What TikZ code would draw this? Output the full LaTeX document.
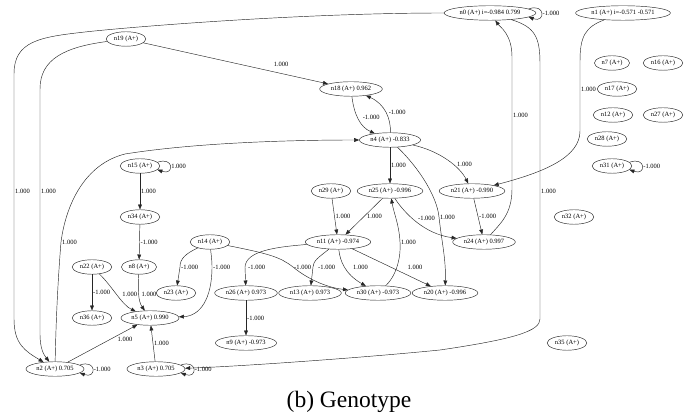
\documentclass[tikz,border=0pt]{standalone}
\usepackage{fontspec}
\setmainfont{Liberation Serif}
\usetikzlibrary{arrows.meta,shapes.geometric}
\tikzset{
  >={Triangle[length=5pt,width=3.8pt]},
  gene/.style={ellipse,draw=black!85,line width=0.45pt,font=\fontsize{6.5}{7.5}\selectfont,inner xsep=2pt,inner ysep=2pt,minimum height=14.5pt},
  link/.style={->,draw=black!85,line width=0.45pt},
  self/.style={link,min distance=18pt},
  wt/.style={font=\fontsize{6.5}{7.5}\selectfont,inner sep=1pt},
  caption/.style={font=\fontsize{23.5}{28}\selectfont,anchor=base}
}
\begin{document}
\begin{tikzpicture}[x=1pt,y=1pt]
  \useasboundingbox (0,0) rectangle (692,419);
  \node[gene] (n0) at (490,406) {n0 (A+) i=-0.984 0.799};
  \node[gene] (n1) at (623,406) {n1 (A+) i=-0.571 -0.571};
  \node[gene] (n19) at (126,380) {n19 (A+)};
  \node[gene] (n7) at (612,356) {n7 (A+)};
  \node[gene] (n16) at (663,356) {n16 (A+)};
  \node[gene] (n18) at (351,330) {n18 (A+) 0.962};
  \node[gene] (n17) at (617,330) {n17 (A+)};
  \node[gene] (n12) at (613,304) {n12 (A+)};
  \node[gene] (n27) at (663,304) {n27 (A+)};
  \node[gene] (n4) at (390,279) {n4 (A+) -0.833};
  \node[gene] (n28) at (607,280) {n28 (A+)};
  \node[gene] (n15) at (140,253) {n15 (A+)};
  \node[gene] (n31) at (612,253) {n31 (A+)};
  \node[gene] (n29) at (331,228) {n29 (A+)};
  \node[gene] (n25) at (390,228) {n25 (A+) -0.996};
  \node[gene] (n21) at (472,228) {n21 (A+) -0.990};
  \node[gene] (n34) at (140,202) {n34 (A+)};
  \node[gene] (n32) at (574,202) {n32 (A+)};
  \node[gene] (n14) at (210,177) {n14 (A+)};
  \node[gene] (n11) at (338,177) {n11 (A+) -0.974};
  \node[gene] (n24) at (484,177) {n24 (A+) 0.997};
  \node[gene] (n22) at (92,152) {n22 (A+)};
  \node[gene] (n8) at (139,152) {n8 (A+)};
  \node[gene] (n23) at (176,126) {n23 (A+)};
  \node[gene] (n26) at (246,126) {n26 (A+) 0.973};
  \node[gene] (n13) at (310,126) {n13 (A+) 0.973};
  \node[gene] (n30) at (378,126) {n30 (A+) -0.973};
  \node[gene] (n20) at (445,126) {n20 (A+) -0.996};
  \node[gene] (n36) at (92,101) {n36 (A+)};
  \node[gene] (n5) at (150,101) {n5 (A+) 0.990};
  \node[gene] (n9) at (246,76) {n9 (A+) -0.973};
  \node[gene] (n35) at (567,76) {n35 (A+)};
  \node[gene] (n2) at (55,50) {n2 (A+) 0.705};
  \node[gene] (n3) at (156,50) {n3 (A+) 0.705};

  \draw[link] (n0.west) .. controls (300,406) and (130,392) .. (85,387) .. controls (40,382) and (14,378) .. (14,345) -- (14,228) node[wt,right]{1.000} -- (14,100) .. controls (14,75) and (25,68) .. (n2);
  \draw[link] (n19) .. controls (65,372) and (40,360) .. (40,330) -- (40,228) node[wt,right]{1.000} -- (40,85) .. controls (40,70) and (44,64) .. (n2);
  \draw[link] (n2) .. controls (56,100) and (58,140) .. (61,177) node[wt,right]{1.000} .. controls (66,215) and (85,255) .. (125,265) .. controls (200,277) and (300,279) .. (n4);
  \draw[link] (n2) -- node[wt,pos=0.7,anchor=north west]{1.000} (n5);
  \draw[link] (n3) -- node[wt,midway,right]{1.000} (n5);
  \draw[self] (n2.9) to[out=20,in=-20] node[wt,right]{-1.000} (n2.-9);
  \draw[self] (n3.9) to[out=20,in=-20] node[wt,right]{-1.000} (n3.-9);
  \draw[link] (n0) .. controls (535,392) and (540,382) .. (540,355) -- (540,228) node[wt,right]{1.000} -- (540,100) .. controls (540,88) and (515,80) .. (440,69) .. controls (360,61) and (230,52) .. (n3);
  \draw[link] (n24) .. controls (500,195) and (512,205) .. (512,230) -- (512,304) node[wt,right]{1.000} -- (512,362) .. controls (512,385) and (500,392) .. (n0);
  \draw[self] (n0.6) to[out=20,in=-20] node[wt,right]{-1.000} (n0.-6);
  \draw[link] (n1) .. controls (585,392) and (580,382) .. (580,358) -- (580,330) node[wt,right]{1.000} -- (580,288) .. controls (580,262) and (545,247) .. (n21);
  \draw[link] (n19) -- node[wt,pos=0.7,anchor=south west,yshift=4pt]{1.000} (n18);
  \draw[link] (n18) .. controls (354,305) and (360,292) .. (n4) node[wt,pos=0.45,right=4pt]{-1.000};
  \draw[link] (n4) .. controls (391,300) and (385,315) .. (n18) node[wt,pos=0.5,right=2pt]{-1.000};
  \draw[link] (n4) -- node[wt,midway,right]{1.000} (n25);
  \draw[link] (n4) .. controls (440,268) and (460,252) .. (n21) node[wt,pos=0.6,right=3pt]{1.000};
  \draw[link] (n4) .. controls (420,250) and (437,222) .. (439,202) node[wt,right]{1.000} .. controls (442,175) and (446,160) .. (n20);
  \draw[link] (n21) -- node[wt,midway,right]{-1.000} (n24);
  \draw[link] (n25) .. controls (405,205) and (425,185) .. (n24) node[wt,pos=0.4,right=5pt]{-1.000};
  \draw[link] (n30) .. controls (398,145) and (401,165) .. (400,177) node[wt,right]{1.000} .. controls (399,195) and (394,205) .. (n25);
  \draw[link] (n25) -- node[wt,midway,right=2pt]{1.000} (n11);
  \draw[link] (n29) -- node[wt,midway,right]{1.000} (n11);
  \draw[link] (n11) .. controls (275,172) and (246,168) .. (245,152) node[wt,right=2pt]{-1.000} -- (n26);
  \draw[link] (n11) .. controls (319,162) and (313,158) .. (313,152) node[wt,right=4pt]{-1.000} -- (n13);
  \draw[link] (n11) .. controls (340,158) and (345,145) .. (n30) node[wt,pos=0.5,right=7pt]{1.000};
  \draw[link] (n11) -- node[wt,midway,right=15pt]{1.000} (n20);
  \draw[link] (n14) .. controls (270,165) and (280,162) .. (293,152) node[wt,right]{-1.000} .. controls (310,138) and (330,131) .. (n30);
  \draw[link] (n14) .. controls (185,165) and (180,160) .. (180,152) node[wt,right]{-1.000} -- (n23);
  \draw[link] (n14) .. controls (211,165) and (212,160) .. (212,152) node[wt,right]{-1.000} .. controls (212,120) and (200,103) .. (n5);
  \draw[link] (n15) -- node[wt,midway,right]{1.000} (n34);
  \draw[link] (n34) -- node[wt,midway,right]{-1.000} (n8);
  \draw[self] (n15.12) to[out=20,in=-20] node[wt,right]{1.000} (n15.-12);
  \draw[link] (n22) -- node[wt,midway,right]{-1.000} (n36);
  \draw[link] (n22) .. controls (112,133) and (122,114) .. (n5) node[wt,pos=0.5,right=4pt]{1.000};
  \draw[link] (n8) .. controls (138,130) and (138,118) .. (n5) node[wt,pos=0.5,right=1.5pt]{1.000};
  \draw[link] (n26) -- node[wt,midway,right]{-1.000} (n9);
  \draw[self] (n31.12) to[out=20,in=-20] node[wt,right]{-1.000} (n31.-12);
  \node[caption] (title) at (349,11) {(b) Genotype};
\end{tikzpicture}
\end{document}
